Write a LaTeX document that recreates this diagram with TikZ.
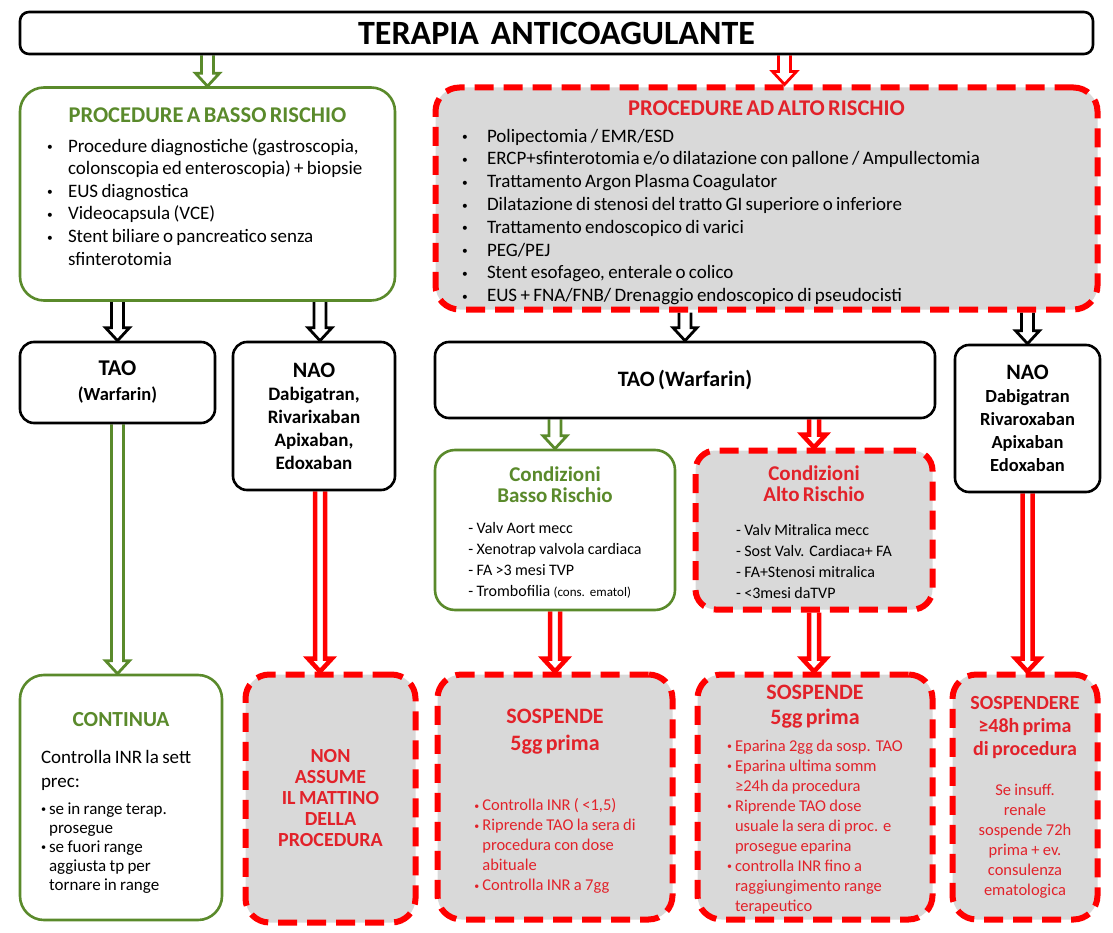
\documentclass[tikz,border=0pt]{standalone}
\usepackage{fontspec}
\setmainfont{Carlito}
\usetikzlibrary{calc,backgrounds}

\definecolor{okgreen}{HTML}{5A8A2B}
\definecolor{alarm}{HTML}{FF0000}
\definecolor{alarmtext}{HTML}{E2222A}
\definecolor{panel}{HTML}{D9D9D9}

\newcommand{\fs}[2]{\fontsize{#1}{#2}\selectfont}
\newcommand{\bul}{\raisebox{1.5pt}{\scalebox{0.6}{\textbullet}}}
% hollow block arrow, straight down from #2 to #3
\newcommand{\blockarrow}[3]{%
  \draw[#1] let \p1=(#2), \p2=(#3) in
    (\x1-\shaft,\y1) -- (\x1-\shaft,\y2+13pt) -- (\x1-12pt,\y2+13pt) -- (\x1,\y2)
    -- (\x1+12pt,\y2+13pt) -- (\x1+\shaft,\y2+13pt) -- (\x1+\shaft,\y1);}

\begin{document}
\begin{tikzpicture}[x=1pt,y=1pt,
  box/.style={rounded corners=14pt, line width=2.6pt, inner sep=0pt, align=center},
  plain/.style={box, draw=black, fill=white},
  safe/.style={box, draw=okgreen, fill=white, rounded corners=24pt},
  risk/.style={box, draw=alarm, fill=panel, line width=6pt, dash pattern=on 19pt off 10pt, rounded corners=24pt},
  flow/.style={draw=#1, fill=white, line width=2.8pt, /utils/exec={\def\shaft{6pt}}},
  hot/.style={draw=alarm, fill=white, line width=4.5pt, /utils/exec={\def\shaft{5pt}}},
]
\useasboundingbox (0,0) rectangle (1113,-933);

\node[plain, rounded corners=9pt, minimum width=1073pt, minimum height=42pt, text width=1060pt] (title) at (556.5,-33)
  {\fs{34}{40}\bfseries TERAPIA\hspace{0.25em} ANTICOAGULANTE};

% procedure
\node[safe, minimum width=375pt, minimum height=213pt, text width=360pt] (low) at (207.5,-194) {%
  {\color{okgreen}\fs{22.5}{27}\bfseries PROCEDURE A BASSO RISCHIO\par}\vspace{7pt}
  {\fs{19}{22.6}\begin{tabular}[t]{@{}p{21pt}@{}p{300pt}@{}}
   \bul & Procedure diagnostiche (gastroscopia,\\
        & colonscopia ed enteroscopia) + biopsie\\
   \bul & EUS diagnostica\\
   \bul & Videocapsula (VCE)\\
   \bul & Stent biliare o pancreatico senza\\
        & sfinterotomia\rule[-15pt]{0pt}{0pt}
  \end{tabular}\par}\vspace{32pt}};
\node[risk, minimum width=662pt, minimum height=222pt, text width=640pt] (high) at (766.5,-198.5) {%
  {\color{alarmtext}\fs{22.5}{27}\bfseries\rule{0pt}{27pt}PROCEDURE AD ALTO RISCHIO\par}\vspace{4pt}
  {\fs{19}{22.8}\begin{tabular}[t]{@{}p{25pt}@{}p{584pt}@{}}
   \bul & Polipectomia / EMR/ESD\\
   \bul & ERCP+sfinterotomia e/o dilatazione con pallone / Ampullectomia\\
   \bul & Trattamento Argon Plasma Coagulator\\
   \bul & Dilatazione di stenosi del tratto GI superiore o inferiore\\
   \bul & Trattamento endoscopico di varici\\
   \bul & PEG/PEJ\\
   \bul & Stent esofageo, enterale o colico\\
   \bul & EUS + FNA/FNB/ Drenaggio endoscopico di pseudocisti
  \end{tabular}\par}\vspace{-12pt}};

% farmaci
\node[plain, minimum width=195pt, minimum height=81pt, text width=185pt] (tao1) at (117.5,-382.5)
  {{\fs{22.5}{26}\bfseries TAO\par}{\fs{18.5}{25}\bfseries (Warfarin)\par}};
\node[plain, minimum width=162pt, minimum height=148pt, text width=150pt] (nao1) at (314,-416)
  {{\fs{22}{26}\bfseries NAO\par}{\fs{19}{23}\bfseries Dabigatran,\\Rivarixaban\\Apixaban,\\Edoxaban\par}};
\node[plain, minimum width=500pt, minimum height=76pt, text width=480pt] (tao2) at (685,-380)
  {\fs{22}{26}\bfseries TAO (Warfarin)};
\node[plain, minimum width=145pt, minimum height=147pt, text width=135pt] (nao2) at (1027.5,-418.5)
  {{\fs{22}{26}\bfseries NAO\par}{\fs{18.5}{23}\bfseries Dabigatran\\Rivaroxaban\\Apixaban\\Edoxaban\par}};

% condizioni
\node[safe, rounded corners=20pt, minimum width=240pt, minimum height=160pt, text width=230pt] (lowcond) at (555,-530) {%
  {\color{okgreen}\fs{21}{21}\bfseries\rule{0pt}{25pt}Condizioni\\Basso Rischio\par}\vspace{10pt}
  {\fs{16}{21}\begin{tabular}[t]{@{}l@{}}
   - Valv Aort mecc\\
   - Xenotrap valvola cardiaca\\
   - FA >3 mesi TVP\\
   - Trombofilia {\fs{13}{21}(cons. ematol)}
  \end{tabular}\par}\vspace{-10pt}};
\node[risk, rounded corners=20pt, minimum width=237pt, minimum height=159pt, text width=225pt] (highcond) at (814,-530) {%
  {\color{alarmtext}\fs{21}{21}\bfseries\rule{0pt}{25pt}Condizioni\\Alto Rischio\par}\vspace{13pt}
  {\fs{16}{21}\begin{tabular}[t]{@{}l@{}}
   - Valv Mitralica mecc\\
   - Sost Valv. Cardiaca+ FA\\
   - FA+Stenosi mitralica\\
   - <3mesi daTVP
  \end{tabular}\par}\vspace{-10pt}};

% condotta
\node[safe, minimum width=202pt, minimum height=245pt, text width=160pt, align=left] (cont) at (121,-797.5) {%
  {\centering\color{okgreen}\fs{21.5}{26}\bfseries\rule{0pt}{28pt}CONTINUA\par}\vspace{13pt}
  {\fs{19}{24}\begin{tabular}[t]{@{}l@{}}Controlla INR la sett\\prec:\end{tabular}\par}\vspace{5pt}
  {\fs{17}{19}\begin{tabular}[t]{@{}l@{\hspace{3pt}}l@{}}
   \bul & se in range  terap.\\
        & prosegue\\
   \bul & se fuori range\\
        & aggiusta tp per\\
        & tornare in range
  \end{tabular}\par}\vspace{-14pt}};
\node[risk, minimum width=170pt, minimum height=248pt, text width=160pt, text=alarmtext] (nonass) at (330.5,-798.5)
  {\fs{20}{21}\bfseries NON\\ASSUME\\IL MATTINO\\DELLA\\PROCEDURA\par};
\node[risk, minimum width=235pt, minimum height=245pt, text width=225pt, text=alarmtext] (sosp1) at (555,-797) {%
  {\fs{22}{27}\bfseries SOSPENDE\\5gg prima\par}\vspace{40pt}
  {\fs{16.5}{20}\begin{tabular}[t]{@{}l@{\hspace{3pt}}l@{}}
   \bul & Controlla INR ( <1,5)\\
   \bul & Riprende TAO  la sera di\\
        & procedura con dose\\
        & abituale\\
   \bul & Controlla INR a 7gg
  \end{tabular}\par}\vspace{-12pt}};
\node[risk, minimum width=235pt, minimum height=245pt, text width=225pt, text=alarmtext] (sosp2) at (815,-797) {%
  {\fs{22}{25}\bfseries SOSPENDE\\5gg prima\par}\vspace{7pt}
  {\fs{16.5}{20}\begin{tabular}[t]{@{}l@{\hspace{3pt}}l@{}}
   \bul & Eparina 2gg da sosp. TAO\\
   \bul & Eparina ultima somm\\
        & ≥24h da procedura\\
   \bul & Riprende TAO  dose\\
        & usuale  la sera di proc. e\\
        & prosegue eparina\\
   \bul & controlla INR fino a\\
        & raggiungimento range\\
        & terapeutico
  \end{tabular}\par}\vspace{-8pt}};
\node[risk, minimum width=145pt, minimum height=245pt, text width=138pt, text=alarmtext] (sosp3) at (1025,-797) {%
  {\fs{20}{23}\bfseries SOSPENDERE\\≥48h prima\\di procedura\par}\vspace{20pt}
  {\fs{16.5}{20}Se insuff.\\renale\\sospende 72h\\prima  + ev.\\consulenza\\ematologica\par}};

% frecce
\begin{scope}[on background layer]
  \blockarrow{flow=okgreen}{title.south -| low.north}{low.north}
  \blockarrow{flow=alarm}{$(title.south -| high.north)+(18,0)$}{$(high.north)+(18,0)$}
  \blockarrow{flow=black}{low.south -| tao1.north}{tao1.north}
  \blockarrow{flow=black}{$(low.south -| nao1.north)+(6,0)$}{$(nao1.north)+(6,0)$}
  \blockarrow{flow=black}{high.south -| tao2.north}{tao2.north}
  \blockarrow{flow=black}{high.south -| nao2.north}{nao2.north}
  \blockarrow{flow=okgreen}{tao2.south -| lowcond.north}{lowcond.north}
  \blockarrow{hot}{tao2.south -| highcond.north}{highcond.north}
  \blockarrow{flow=okgreen}{tao1.south}{tao1.south |- cont.north}
  \blockarrow{hot}{$(nao1.south)+(6,0)$}{$(nao1.south |- nonass.north)+(6,0)$}
  \blockarrow{hot}{lowcond.south}{lowcond.south |- sosp1.north}
  \blockarrow{hot}{highcond.south}{highcond.south |- sosp2.north}
  \blockarrow{hot}{nao2.south}{nao2.south |- sosp3.north}
\end{scope}
\end{tikzpicture}
\end{document}
